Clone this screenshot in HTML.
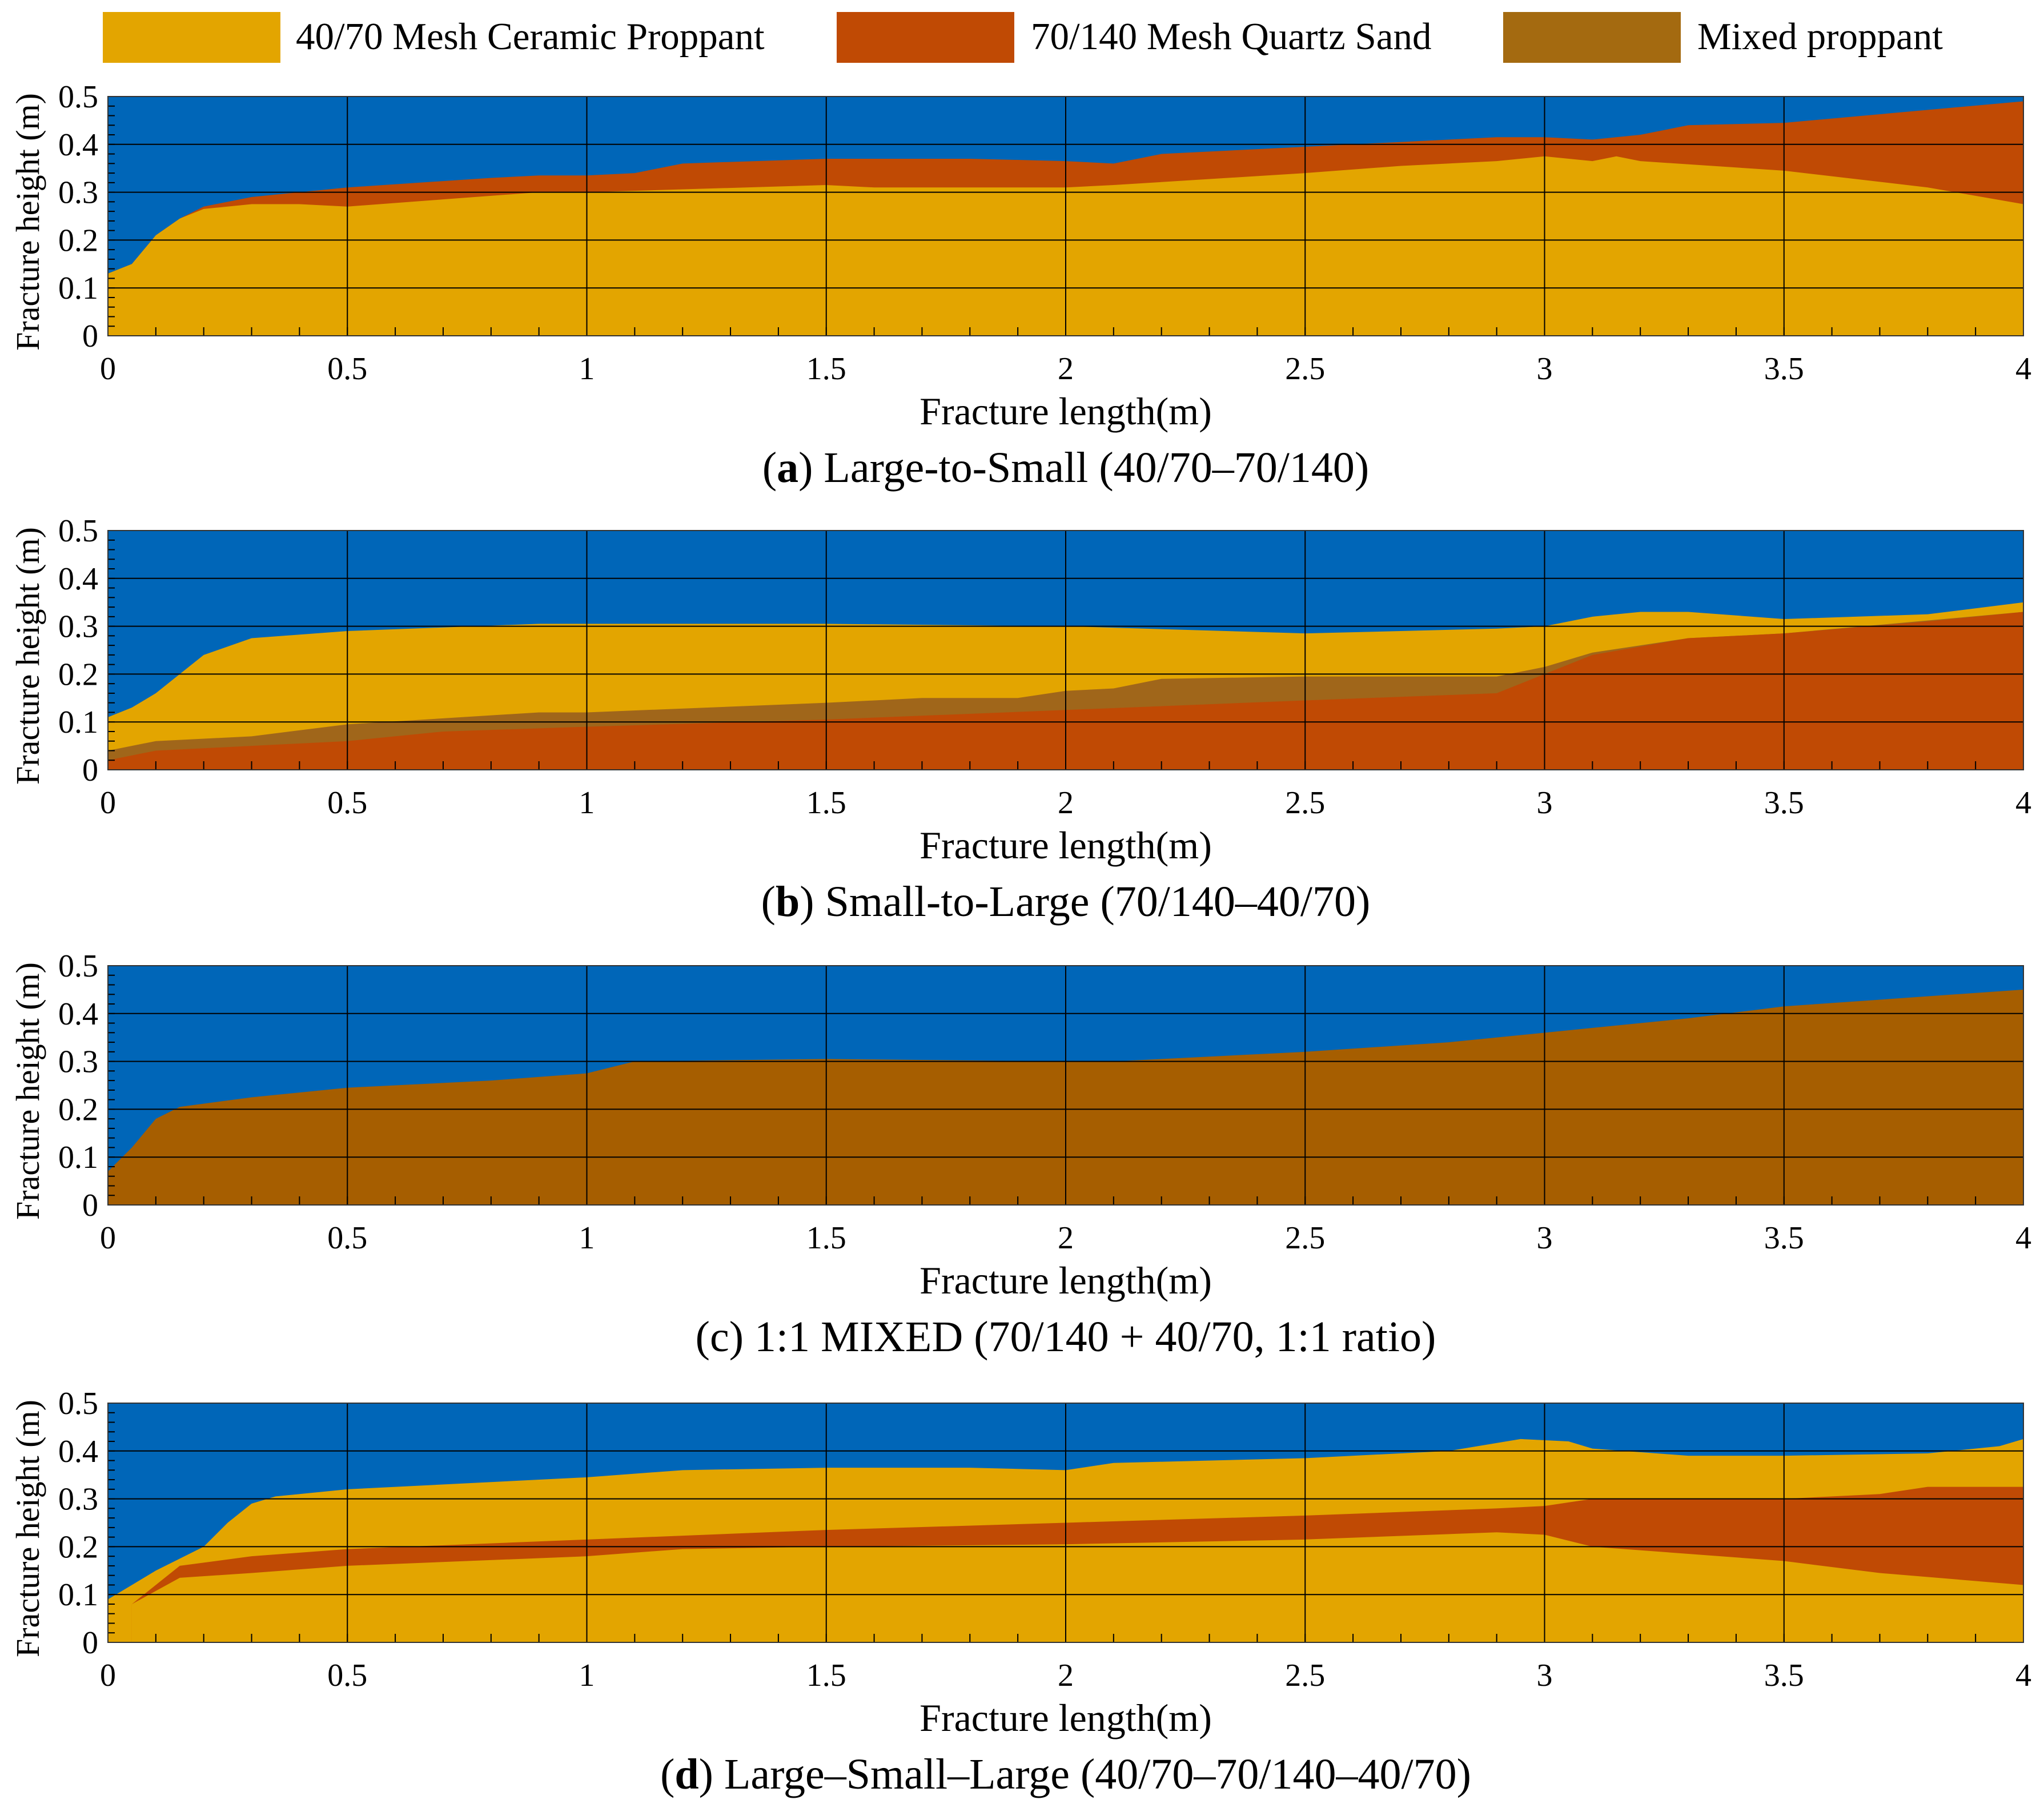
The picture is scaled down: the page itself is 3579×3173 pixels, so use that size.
<!DOCTYPE html>
<html><head><meta charset="utf-8">
<style>
html,body{margin:0;padding:0;background:#fff;}
svg{display:block;}
svg text{font-family:"Liberation Serif","DejaVu Serif",serif;}
</style></head>
<body>
<svg id="fig" width="3579" height="3173" viewBox="0 0 3579 3173" xmlns="http://www.w3.org/2000/svg" font-family="Liberation Serif, serif">
  <g>
    <rect x="180" y="21" width="311" height="89" fill="#E3A500"/>
    <text x="518" y="86" font-size="67" font-family="Liberation Serif, serif">40/70 Mesh Ceramic Proppant</text>
    <rect x="1465" y="21" width="311" height="89" fill="#C04A04"/>
    <text x="1805" y="86" font-size="67" font-family="Liberation Serif, serif">70/140 Mesh Quartz Sand</text>
    <rect x="2632" y="21" width="311" height="89" fill="#A46A10"/>
    <text x="2972" y="86" font-size="67" font-family="Liberation Serif, serif">Mixed proppant</text>
  </g>
</svg>
<script>
const BLUE="#0066B8", CER="#E3A500", QTZ="#C04A04", MIX="#A0661A", MIXC="#A65E00";
const xTicks=[0,0.5,1,1.5,2,2.5,3,3.5,4];
const xTickLabels=["0","0.5","1","1.5","2","2.5","3","3.5","4"];
const yTicks=[0,0.1,0.2,0.3,0.4,0.5];
const yTickLabels=["0","0.1","0.2","0.3","0.4","0.5"];
// Panel a
const aCerX=[0,0.05,0.1,0.15,0.2,0.3,0.4,0.5,0.7,0.9,1.0,1.5,1.6,2.0,2.1,2.5,2.7,2.9,3.0,3.1,3.15,3.2,3.5,3.8,4.0];
const aCerY=[0.13,0.15,0.21,0.245,0.265,0.275,0.275,0.27,0.285,0.30,0.30,0.315,0.31,0.31,0.315,0.34,0.355,0.365,0.375,0.365,0.375,0.365,0.345,0.31,0.275];
const aQtzX=[0,0.05,0.1,0.15,0.2,0.3,0.5,0.8,0.9,1.0,1.1,1.2,1.5,1.8,2.0,2.1,2.2,2.5,2.9,3.0,3.1,3.2,3.3,3.5,4.0];
const aQtzY=[0.13,0.15,0.21,0.245,0.27,0.29,0.31,0.33,0.335,0.335,0.34,0.36,0.37,0.37,0.365,0.36,0.38,0.395,0.415,0.415,0.41,0.42,0.44,0.445,0.49];
// Panel b
const bCerX=[0,0.05,0.1,0.2,0.3,0.5,0.9,1.5,2.0,2.5,2.9,3.0,3.1,3.2,3.3,3.5,3.8,4.0];
const bCerY=[0.11,0.13,0.16,0.24,0.275,0.29,0.305,0.305,0.30,0.285,0.295,0.30,0.32,0.33,0.33,0.315,0.325,0.35];
const bMixX=[0,0.1,0.3,0.5,0.9,1.0,1.5,1.7,1.9,2.0,2.1,2.2,2.5,2.9,3.0,3.1,3.2,3.3,3.5,4.0];
const bMixY=[0.04,0.06,0.07,0.095,0.12,0.12,0.14,0.15,0.15,0.165,0.17,0.19,0.195,0.195,0.215,0.245,0.26,0.275,0.285,0.33];
const bQtzX=[0,0.1,0.5,0.7,1.0,1.5,2.0,2.5,2.9,3.0,3.1,3.3,3.5,3.8,4.0];
const bQtzY=[0.02,0.04,0.06,0.08,0.09,0.105,0.125,0.145,0.16,0.20,0.24,0.275,0.285,0.31,0.33];
// Panel c
const cMixX=[0,0.05,0.1,0.15,0.3,0.5,0.8,1.0,1.1,1.5,2.0,2.1,2.5,2.8,3.0,3.3,3.5,4.0];
const cMixY=[0.07,0.12,0.18,0.205,0.225,0.245,0.26,0.275,0.30,0.305,0.30,0.30,0.32,0.34,0.36,0.39,0.415,0.45];
// Panel d
const dTopX=[0,0.05,0.1,0.2,0.25,0.3,0.35,0.5,1.0,1.2,1.5,1.8,2.0,2.1,2.5,2.8,2.95,3.05,3.1,3.3,3.5,3.8,3.95,4.0];
const dTopY=[0.09,0.12,0.15,0.20,0.25,0.29,0.305,0.32,0.345,0.36,0.365,0.365,0.36,0.375,0.385,0.40,0.425,0.42,0.405,0.39,0.39,0.395,0.41,0.425];
const dQtzUpX=[0.05,0.15,0.3,0.5,1.0,1.5,2.0,2.5,2.9,3.0,3.1,3.5,3.7,3.8,4.0];
const dQtzUpY=[0.08,0.16,0.18,0.195,0.215,0.235,0.25,0.265,0.28,0.285,0.30,0.30,0.31,0.325,0.325];
const dQtzLoX=[0.05,0.15,0.3,0.5,1.0,1.2,1.5,2.0,2.5,2.9,3.0,3.1,3.5,3.7,4.0];
const dQtzLoY=[0.08,0.135,0.145,0.16,0.18,0.195,0.20,0.205,0.215,0.23,0.225,0.20,0.17,0.145,0.12];

const NS="http://www.w3.org/2000/svg";
const svg=document.getElementById('fig');
const L=189,R=3543,H=419;
const tops=[169,929,1691,2457];
const FF="Liberation Serif, serif";
function mk(tag,attrs,parent){const e=document.createElementNS(NS,tag);for(const k in attrs)e.setAttribute(k,attrs[k]);parent.appendChild(e);return e;}

function panel(idx,layers,caption,bold){
  const T=tops[idx];
  const sx=v=>L+v/4*(R-L);
  const sy=v=>T+H-v/0.5*H;
  const g=mk('g',{},svg);
  
  
  const bg=mk('rect',{x:L,y:T,width:R-L,height:H,fill:BLUE},g);
  
  
  layers.forEach(ly=>{
    let d='M'+sx(ly.x[0])+','+sy(0);
    for(let i=0;i<ly.x.length;i++) d+=' L'+sx(ly.x[i])+','+sy(ly.y[i]);
    d+=' L'+sx(ly.x[ly.x.length-1])+','+sy(0)+' Z';
    const p=mk('path',{d:d,fill:ly.c},g);
    
    
  });
  xTicks.forEach(v=>{const l=mk('line',{x1:sx(v),x2:sx(v),y1:T,y2:T+H,stroke:'#000','stroke-width':2},g);
    
    });
  yTicks.forEach(v=>{const l=mk('line',{x1:L,x2:R,y1:sy(v),y2:sy(v),stroke:'#000','stroke-width':2},g);
    
    });
  for(let i=1;i<40;i++){const l=mk('line',{x1:sx(i*0.1),x2:sx(i*0.1),y1:T+H,y2:T+H-15,stroke:'#000','stroke-width':2},g);
    
    }
  for(let i=1;i<25;i++){const l=mk('line',{x1:L,x2:L+12,y1:sy(i*0.02),y2:sy(i*0.02),stroke:'#000','stroke-width':2},g);
    
    }
  const fr=mk('rect',{x:L,y:T,width:R-L,height:H,fill:'none',stroke:'#333','stroke-width':2},g);
  
  
  xTicks.forEach((v,i)=>{const t=mk('text',{x:sx(v),y:T+H+76,'font-size':56,'text-anchor':'middle','font-family':FF},g);t.textContent=xTickLabels[i];
    
    });
  yTicks.forEach((v,i)=>{const t=mk('text',{x:172,y:sy(v)+19,'font-size':56,'text-anchor':'end','font-family':FF},g);t.textContent=yTickLabels[i];
    
    });
  const xt=mk('text',{x:(L+R)/2,y:T+H+155,'font-size':68,'text-anchor':'middle','font-family':FF},g);xt.textContent='Fracture length(m)';
  
  
  const cy=T+H/2+10;
  const yt=mk('text',{x:68,y:cy,'font-size':58,'text-anchor':'middle','font-family':FF,transform:'rotate(-90 68 '+cy+')'},g);yt.textContent='Fracture height (m)';
  
  
  const cap=mk('text',{x:(L+R)/2,y:T+H+256,'font-size':76,'text-anchor':'middle','font-family':FF},g);
  
  
  cap.innerHTML='(<tspan font-weight="'+(bold?'bold':'normal')+'">'+'abcd'[idx]+'</tspan>) '+caption;
}
panel(0,[{x:aQtzX,y:aQtzY,c:QTZ,n:'quartz-sand-layer'},{x:aCerX,y:aCerY,c:CER,n:'ceramic-layer'}],'Large-to-Small (40/70–70/140)',true);
panel(1,[{x:bCerX,y:bCerY,c:CER,n:'ceramic-layer'},{x:bMixX,y:bMixY,c:MIX,n:'mixed-layer'},{x:bQtzX,y:bQtzY,c:QTZ,n:'quartz-sand-layer'}],'Small-to-Large (70/140–40/70)',true);
panel(2,[{x:cMixX,y:cMixY,c:MIXC,n:'mixed-layer'}],'1:1 MIXED (70/140 + 40/70, 1:1 ratio)',false);
panel(3,[{x:dTopX,y:dTopY,c:CER,n:'ceramic-upper-layer'},{x:dQtzUpX,y:dQtzUpY,c:QTZ,n:'quartz-sand-layer'},{x:dQtzLoX,y:dQtzLoY,c:CER,n:'ceramic-lower-layer'}],'Large–Small–Large (40/70–70/140–40/70)',true);
</script>
</body></html>
